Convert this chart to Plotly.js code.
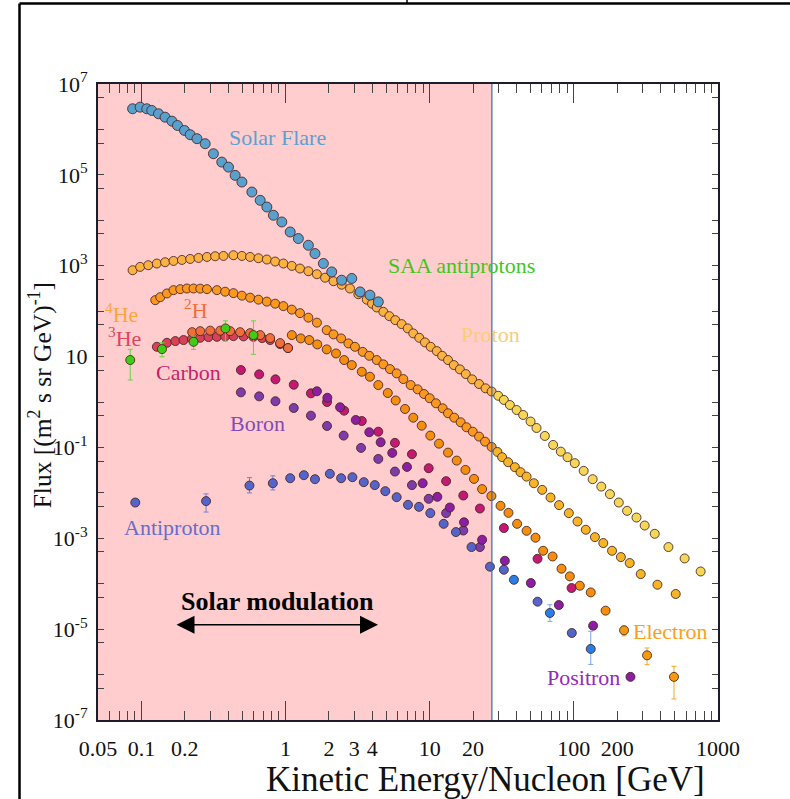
<!DOCTYPE html>
<html>
<head>
<meta charset="utf-8">
<script src="https://cdn.plot.ly/plotly-3.0.1.min.js"></script>
<style>html,body{margin:0;padding:0;background:#fff;}#chart{width:790px;height:799px;}</style>
</head>
<body>
<div id="chart"></div>
<script>
// ---------------- DATA (kinetic energy per nucleon in GeV, flux in (m^2 s sr GeV)^-1) ----------------
const modulationStart = 0.05;
const modulationEdge = 27;

const solarE = [0.0869,0.098,0.109,0.118,0.1315,0.146,0.163,0.178,0.199,0.218,0.243,0.277,0.316,0.361,0.402,0.447,0.498,0.584,0.667,0.742,0.824,0.942,1.077,1.227,1.44,1.60,1.83,2.09,2.45,2.88,3.29,3.85,4.40];
const solarF = [2.85e6,3.09e6,2.85e6,2.62e6,2.21e6,1.86e6,1.52e6,1.22e6,9.5e5,7.65e5,6.25e5,4.85e5,2.92e5,1.91e5,1.48e5,9.75e4,6.95e4,4.19e4,2.75e4,1.96e4,1.29e4,9.18e3,5.53e3,3.96e3,2.82e3,1.85e3,1.12e3,731,480,524,265,225,160];

const protonLoE = [0.0869,0.098,0.1116,0.128,0.146,0.167,0.191,0.218,0.249,0.285,0.325,0.371,0.435,0.498,0.568,0.649,0.742,0.847,0.966,1.105,1.26,1.44,1.65,1.88,2.15,2.45,2.80,3.20,3.66,3.98,4.29,4.77,5.25,5.77,6.39,7.04,7.69,8.47,9.27,10.16,11.2,12.2,13.4,14.7,16.2,17.8,19.7,22.0,24.4,26.9];
const protonLoF = [796,942,1026,1117,1194,1274,1341,1410,1483,1560,1617,1641,1702,1641,1560,1462,1368,1236,1117,990,867,757,650,545,456,382,315,236,179,146,120.5,96.6,77.6,63.4,51.8,41.7,32.4,25.9,20.5,16.4,13.2,10.4,8.38,6.50,5.23,4.12,3.15,2.49,2.00,1.70];
const protonHiE = [29.9,32.7,36.0,40.1,44.5,50.1,55.1,62.9,71.8,81.2,90.4,101.5,117,135,155,178,205,234,272,310,364,453,587,758];
const protonHiF = [1.37,1.11,0.859,0.667,0.518,0.372,0.268,0.179,0.1135,0.0809,0.0610,0.0450,0.0305,0.0200,0.01374,0.00935,0.00612,0.00402,0.00286,0.00191,0.001256,0.000641,0.000360,0.000186];

const he4LoE = [0.1248,0.1351,0.1504,0.167,0.186,0.207,0.230,0.256,0.285,0.334,0.381,0.435,0.498,0.568,0.649,0.742,0.847,0.966,1.105,1.26,1.44,1.65,1.93,2.15,2.43,2.73,3.03,3.43,3.81,4.29,4.77,5.30,5.90,6.56,7.38,8.25,9.13,10.0,11.05,12.3,13.4,14.8,16.4,18.0,19.9,22.0,24.2,26.9];
const he4LoF = [174.6,203,245,290,305,315,315,313,305,290,268,249,219,198,179,162,146,129,108,90.4,71.9,55.8,38.2,30.8,25.1,19.5,16.4,12.7,10.4,8.38,6.74,5.31,4.27,3.20,2.36,1.90,1.50,1.21,0.936,0.727,0.565,0.452,0.358,0.278,0.222,0.173,0.134,0.1026];
const he4HiE = [29.5,31.8,35.0,39.0,42.7,47.0,52.8,60.3,68.9,79.0,92.3,106,121,140,160,184,212,244,291,380,509];
const he4HiF = [0.0796,0.0610,0.0473,0.0367,0.0285,0.0228,0.0163,0.01164,0.00789,0.00537,0.00358,0.00234,0.00154,0.00106,0.000785,0.000531,0.000386,0.000285,0.000163,0.0000951,0.0000594];

const h2E = [0.225,0.256,0.300,0.352,0.413,0.484,0.568,0.667,0.782,0.917,1.04];
const h2F = [34.5,36.3,37.2,37.2,36.3,34.5,32.8,29.7,25.5,19.8,15.4];

const he3E = [0.128,0.1504,0.172,0.196,0.224,0.256,0.292,0.334,0.381,0.435,0.511,0.599,0.688,0.782,0.917,1.04];
const he3F = [16.4,20.1,21.9,23.1,24.6,25.9,26.8,27.2,27.8,28.2,27.8,27.2,25.5,23.1,18.8,15.4];

const elecE = [1.105,1.276,1.46,1.66,1.93,2.24,2.55,2.88,3.38,3.85,4.40,5.12,5.81,6.74,7.69,8.80,10.1,11.6,13.4,15.4,17.7,20.3,23.1,26.8,31.0,35.2,40.4,47.0,54.2,61.2,71.2,82.1,93.8,110,131,166];
const elecF = [29.7,25.1,23.1,18.5,14.4,11.7,8.38,6.50,4.63,3.60,2.36,1.58,1.08,0.702,0.452,0.301,0.182,0.121,0.0769,0.0513,0.0320,0.0203,0.0121,0.00851,0.00518,0.00363,0.00208,0.00146,0.00103,0.000531,0.000398,0.000214,0.000145,0.0000904,0.0000644,0.0000255];
const elecErrE = [223,322,495];
const elecErrF = [9.42e-6,2.65e-6,8.9e-7];
const elecErrHi = [2.3e-6,1.2e-6,6.3e-7];
const elecErrLo = [2.3e-6,1.0e-6,6.0e-7];

const carbonE = [0.490,0.656,0.851,1.14,1.50,1.94,2.55,3.38,4.40,5.74,7.53,9.84,13.0,17.1,22.3,32.7,56.0,96.4];
const carbonF = [5.05,4.06,3.15,2.40,1.55,1.00,0.644,0.382,0.222,0.126,0.0710,0.0349,0.0181,0.00873,0.00452,0.00168,0.000354,0.0000804];

const boronE = [0.490,0.656,0.851,1.14,1.50,1.94,2.53,3.34,4.40,5.74,7.53,9.84,13.0,17.1,22.3];
const boronF = [1.63,1.33,1.04,0.738,0.500,0.297,0.182,0.0975,0.0558,0.0294,0.0148,0.00738,0.00358,0.00148,0.000641];

const positronE = [1.65,1.95,2.39,3.07,3.81,4.57,5.50,6.96,8.94,11.3,13.8,17.3,23.1,33.2,50.3,78.7,136,247];
const positronF = [1.72,1.24,0.766,0.402,0.216,0.130,0.0757,0.0372,0.0163,0.00817,0.00475,0.00225,0.000927,0.000320,0.0001035,0.0000340,0.0000119,0.00000089];

const pbarE = [0.0907,0.281,0.562,0.816,1.077,1.34,1.60,2.03,2.43,2.91,3.49,4.16,4.92,5.90,7.07,8.43,10.1,12.5,15.2,19.5,26.2,32.7,56.0,96.8];
const pbarF = [0.00612,0.00658,0.01446,0.0163,0.0210,0.0245,0.0200,0.0262,0.0210,0.0221,0.0172,0.0148,0.0109,0.00804,0.00545,0.00492,0.00358,0.00208,0.00137,0.000641,0.000237,0.000203,0.0000402,0.00000824];
const pbarErrHi = [0,0.0029,0.0072,0.0074,0,0,0,0,0,0,0,0,0,0,0,0,0,0,0,0,0,0,0,0];
const pbarErrLo = [0,0.0028,0.0045,0.0047,0,0,0,0,0,0,0,0,0,0,0,0,0,0,0,0,0,0,0,0];

const pbar2E = [38.4,68.2,131];
const pbar2F = [0.000122,0.0000227,0.00000367];
const pbar2ErrHi = [0,0.0000118,0.0000053];
const pbar2ErrLo = [0,0.0000079,0.0000020];

const saaE = [0.0837,0.139,0.230,0.383,0.599];
const saaF = [8.4,14.6,21.1,41.7,29.7];
const saaErrHi = [6.0,5.5,7.1,19.5,31.5];
const saaErrLo = [5.35,4.7,6.7,19.8,18.5];

// tick labels
const xLabelVals = [0.05,0.1,0.2,1,2,3,4,10,20,100,200,1000];
const xLabelText = ['0.05','0.1','0.2','1','2','3','4','10','20','100','200','1000'];
const xMinorVals = [0.06,0.07,0.08,0.09,0.3,0.4,0.5,0.6,0.7,0.8,0.9,5,6,7,8,9,30,40,50,60,70,80,90,300,400,500,600,700,800,900];
const xDecades = [0.1,1,10,100,1000];
const yLabelVals = [1e-7,1e-5,1e-3,1e-1,10,1e3,1e5,1e7];
const yLabelText = ['10<sup>-7</sup>','10<sup>-5</sup>','10<sup>-3</sup>','10<sup>-1</sup>','10','10<sup>3</sup>','10<sup>5</sup>','10<sup>7</sup>'];
const yMinorVals = [5e-7,1e-6,5e-6,5e-5,1e-4,5e-4,5e-3,1e-2,5e-2,0.5,1,5,50,100,500,5e3,1e4,5e4,5e5,1e6,5e6];

// ---------------- STYLE ----------------
const SERIF = 'Liberation Serif, Times New Roman, serif';
const OUTLINE = 'rgba(70,35,35,0.85)';
function pts(x, y, color, size, extra) {
  return Object.assign({
    type: 'scatter', mode: 'markers', x: x, y: y, hoverinfo: 'skip',
    marker: {color: color, size: size || 9, line: {color: OUTLINE, width: 1}}
  }, extra || {});
}
function errs(hi, lo, color) {
  return {type: 'data', symmetric: false, array: hi, arrayminus: lo, color: color, thickness: 1, width: 2.5};
}

const data = [
  pts(protonLoE, protonLoF, '#FCB240', 9),
  pts(protonHiE, protonHiF, '#F6D657', 9),
  pts(he4LoE, he4LoF, '#FC981E', 9),
  pts(he4HiE, he4HiF, '#F6B526', 9),
  pts(he3E, he3F, '#D94158', 9),
  pts(h2E, h2F, '#F06E37', 9),
  pts(solarE, solarF, '#58A0CD', 10),
  pts(elecE, elecF, '#F58E0C', 9),
  pts(elecErrE, elecErrF, '#F59A0C', 9, {error_y: errs(elecErrHi, elecErrLo, '#F5A623')}),
  pts(carbonE, carbonF, '#C31973', 9),
  pts(boronE, boronF, '#7D3CAA', 9),
  pts(positronE, positronF, '#8C1EA3', 9),
  pts(pbarE, pbarF, '#5564C8', 9, {error_y: errs(pbarErrHi, pbarErrLo, '#6F82D8')}),
  pts(pbar2E, pbar2F, '#287DE6', 9, {error_y: errs(pbar2ErrHi, pbar2ErrLo, '#7AA8EE')}),
  pts(saaE, saaF, '#3CCD14', 9, {error_y: errs(saaErrHi, saaErrLo, '#62D544')}),
  {type: 'scatter', mode: 'markers', x: [], y: [], xaxis: 'x2', yaxis: 'y', hoverinfo: 'skip'}
];

function lbl(text, lx, ly, color, size, bold) {
  return {xref: 'x', yref: 'y', x: lx, y: ly, text: bold ? '<b>' + text + '</b>' : text,
          showarrow: false, font: {family: SERIF, size: size || 22, color: color}};
}

const layout = {
  width: 790, height: 799,
  margin: {l: 98, r: 72, t: 84, b: 79, pad: 0},
  paper_bgcolor: '#ffffff', plot_bgcolor: '#ffffff',
  showlegend: false,
  font: {family: SERIF, size: 22, color: '#111'},
  xaxis: {
    type: 'log', range: [Math.log10(0.05), 3], showgrid: false, zeroline: false,
    showline: true, linecolor: '#1c1c2c', linewidth: 2, mirror: 'allticks',
    ticks: 'inside', ticklen: 9, tickwidth: 1, tickcolor: '#444',
    tickmode: 'array', tickvals: xLabelVals, ticktext: xLabelText,
    minor: {tickmode: 'array', tickvals: xMinorVals, ticks: 'inside', ticklen: 9, tickwidth: 1, tickcolor: '#444'},
    tickfont: {family: SERIF, size: 22, color: '#111'}, ticklabelstandoff: 8
  },
  xaxis2: {
    type: 'log', range: [Math.log10(0.05), 3], overlaying: 'x', anchor: 'y', side: 'bottom',
    showgrid: false, zeroline: false, showline: false, mirror: 'ticks',
    ticks: 'inside', ticklen: 19, tickwidth: 1, tickcolor: '#444',
    tickmode: 'array', tickvals: xDecades, showticklabels: false
  },
  yaxis: {
    type: 'log', range: [-7, 7], showgrid: false, zeroline: false,
    showline: true, linecolor: '#1c1c2c', linewidth: 2, mirror: 'allticks',
    ticks: 'inside', ticklen: 6, tickwidth: 1, tickcolor: '#444',
    tickmode: 'array', tickvals: yLabelVals, ticktext: yLabelText,
    minor: {tickmode: 'array', tickvals: yMinorVals, ticks: 'inside', ticklen: 5, tickwidth: 1, tickcolor: '#444'},
    tickfont: {family: SERIF, size: 22, color: '#111'}, ticklabelstandoff: 4
  },
  shapes: [
    {type: 'rect', xref: 'x', yref: 'paper', x0: modulationStart, x1: modulationEdge, y0: 0, y1: 1,
     fillcolor: '#FFCDCD', line: {width: 0}, layer: 'below'},
    {type: 'line', xref: 'x', yref: 'paper', x0: modulationEdge, x1: modulationEdge, y0: 0, y1: 1,
     line: {color: '#2F6DB5', width: 1.2}, layer: 'above'},
    {type: 'line', xref: 'paper', yref: 'paper', x0: -0.1266, x1: -0.1266, y0: -0.13, y1: 1.1266, line: {color: '#000', width: 2.5}},
    {type: 'line', xref: 'paper', yref: 'paper', x0: -0.1266, x1: 1.12, y0: 1.1266, y1: 1.1266, line: {color: '#000', width: 2.5}},
    {type: 'line', xref: 'paper', yref: 'paper', x0: 0.4984, x1: 0.4984, y0: 1.1266, y1: 1.135, line: {color: '#000', width: 1.5}}
  ],
  annotations: [
    {xref: 'paper', yref: 'paper', x: 0.6258, y: -0.0928, text: 'Kinetic Energy/Nucleon [GeV]', showarrow: false,
     xanchor: 'center', yanchor: 'middle', font: {family: SERIF, size: 35, color: '#111'}},
    {xref: 'paper', yref: 'paper', x: -0.093, y: 0.511, text: 'Flux [(m<sup>2</sup> s sr GeV)<sup>-1</sup>]', showarrow: false,
     textangle: -90, xanchor: 'center', yanchor: 'middle', font: {family: SERIF, size: 25.5, color: '#111'}},
    lbl('Solar Flare', -0.058, 5.824, 'rgb(90,160,210)'),
    lbl('SAA antiprotons', 1.2215, 3.0, 'rgb(60,200,30)'),
    lbl('Proton', 1.4246, 1.495, 'rgb(250,205,120)'),
    lbl('<sup>4</sup>He', -1.1395, 1.956, 'rgb(252,165,60)'),
    lbl('<sup>2</sup>H', -0.620, 2.044, 'rgb(240,110,60)'),
    lbl('<sup>3</sup>He', -1.119, 1.429, 'rgb(220,70,95)'),
    lbl('Carbon', -0.675, 0.659, 'rgb(200,30,110)'),
    lbl('Boron', -0.194, -0.484, 'rgb(130,75,185)'),
    lbl('Antiproton', -0.786, -2.769, 'rgb(100,110,205)'),
    lbl('Electron', 2.6685, -5.055, 'rgb(250,160,30)'),
    lbl('Positron', 2.0656, -6.066, 'rgb(150,40,190)'),
    lbl('Solar modulation', -0.058, -4.396, '#000', 26, true),
    {xref: 'x', yref: 'y', x: 0.6415, y: -4.901, ax: -203, ay: 0, text: '', showarrow: true,
     arrowside: 'end+start', arrowhead: 2, startarrowhead: 2, arrowsize: 2.4, startarrowsize: 2.4,
     arrowwidth: 1.5, arrowcolor: '#000', standoff: 0, startstandoff: 0}
  ]
};

Plotly.newPlot('chart', data, layout, {staticPlot: true, displayModeBar: false});
</script>
</body>
</html>
